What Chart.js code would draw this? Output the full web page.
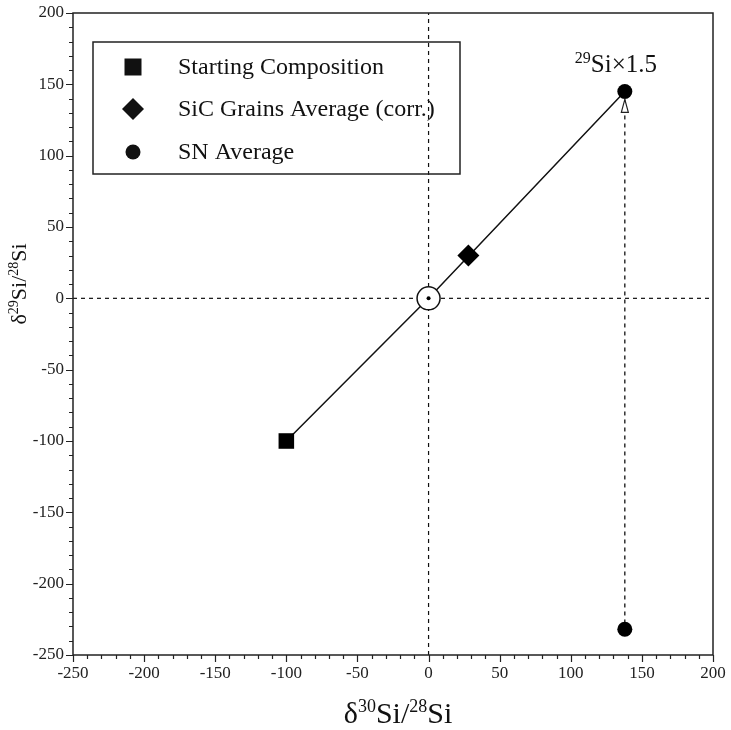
<!DOCTYPE html>
<html>
<head>
<meta charset="utf-8">
<script src="https://cdn.jsdelivr.net/npm/chart.js@4.4.0/dist/chart.umd.min.js"></script>
<style>
  html, body { margin: 0; padding: 0; background: #fff; }
</style>
</head>
<body>
<canvas id="myChart" width="731" height="730"></canvas>
<script>
// axis ranges
var xMin = -250, xMax = 200;
var yMin = -250, yMax = 200;

// measured compositions
var startX = [-100], startY = [-100];
var sicX = [28], sicY = [30];
var snX = [138, 138], snY = [145, -232];

// mixing line through the origin
var lineX = [-100, 0, 138], lineY = [-100, 0, 145];

var legendNames = ['Starting Composition', 'SiC Grains Average (corr.)', 'SN Average'];
var legendStyles = ['rect', 'rectRot', 'circle'];

var serif = "'Liberation Serif', 'Times New Roman', serif";

function pts(xs, ys) {
  var out = [];
  for (var i = 0; i < xs.length; i++) out.push({x: xs[i], y: ys[i]});
  return out;
}

// draws labels with raised isotope numbers: parts = [[text, isSup], ...]
function drawRich(ctx, parts, x, y, big, small, align) {
  var w = 0, i;
  for (i = 0; i < parts.length; i++) {
    ctx.font = (parts[i][1] ? small : big) + 'px ' + serif;
    w += ctx.measureText(parts[i][0]).width;
  }
  var cx = align === 'center' ? x - w / 2 : x;
  ctx.textAlign = 'left';
  ctx.textBaseline = 'alphabetic';
  for (i = 0; i < parts.length; i++) {
    var sup = parts[i][1];
    ctx.font = (sup ? small : big) + 'px ' + serif;
    ctx.fillText(parts[i][0], cx, sup ? y - big * 0.36 : y);
    cx += ctx.measureText(parts[i][0]).width;
  }
}

function marker(ctx, style, x, y) {
  ctx.beginPath();
  if (style === 'rect') {
    ctx.rect(x - 8.5, y - 8.5, 17, 17);
  } else if (style === 'rectRot') {
    ctx.moveTo(x, y - 11); ctx.lineTo(x + 11, y); ctx.lineTo(x, y + 11); ctx.lineTo(x - 11, y);
    ctx.closePath();
  } else {
    ctx.arc(x, y, 7.5, 0, Math.PI * 2);
  }
  ctx.fill();
}

var decorPlugin = {
  id: 'decor',
  afterDraw: function(chart) {
    var ctx = chart.ctx, a = chart.chartArea;
    var xs = chart.scales.x, ys = chart.scales.y;
    ctx.save();
    ctx.strokeStyle = '#222';
    ctx.fillStyle = '#111';

    // frame
    ctx.lineWidth = 1.5;
    ctx.strokeRect(a.left, a.top, a.right - a.left, a.bottom - a.top);

    // tick marks, long on the labelled values
    ctx.lineWidth = 1.2;
    ctx.beginPath();
    xs.ticks.forEach(function(t) {
      var px = Math.round(xs.getPixelForValue(t.value)) + 0.5;
      var len = t.value % 50 === 0 ? 7 : 4;
      ctx.moveTo(px, a.bottom); ctx.lineTo(px, a.bottom + len);
    });
    ys.ticks.forEach(function(t) {
      var py = Math.round(ys.getPixelForValue(t.value)) + 0.5;
      var len = t.value % 50 === 0 ? 7 : 4;
      ctx.moveTo(a.left, py); ctx.lineTo(a.left - len, py);
    });
    ctx.stroke();

    // legend box
    ctx.lineWidth = 1.5;
    ctx.strokeRect(93, 42, 367, 132);
    var rowY = [67, 109, 152];
    for (var i = 0; i < legendNames.length; i++) {
      marker(ctx, legendStyles[i], 133, rowY[i]);
      ctx.font = '24px ' + serif;
      ctx.textAlign = 'left';
      ctx.textBaseline = 'middle';
      ctx.fillText(legendNames[i], 178, rowY[i] + 1);
    }

    // open arrow head under the upper SN point
    var ax = xs.getPixelForValue(snX[0]);
    var ay = ys.getPixelForValue(snY[0]);
    ctx.fillStyle = '#fff';
    ctx.lineWidth = 1.2;
    ctx.beginPath();
    ctx.moveTo(ax, ay + 8);
    ctx.lineTo(ax + 3.5, ay + 21);
    ctx.lineTo(ax - 3.5, ay + 21);
    ctx.closePath();
    ctx.fill();
    ctx.stroke();

    ctx.fillStyle = '#111';
    drawRich(ctx, [['29', true], ['Si\u00d71.5', false]], ax - 50, ay - 19, 25, 16, 'left');

    // axis titles
    drawRich(ctx, [['\u03b4', false], ['30', true], ['Si/', false], ['28', true], ['Si', false]],
      398, 723, 30, 18, 'center');
    ctx.translate(26, 284);
    ctx.rotate(-Math.PI / 2);
    drawRich(ctx, [['\u03b4', false], ['29', true], ['Si/', false], ['28', true], ['Si', false]],
      0, 0, 22, 14, 'center');
    ctx.restore();
  }
};

var ctx = document.getElementById('myChart').getContext('2d');
var chart = new Chart(ctx, {
  type: 'scatter',
  data: {
    datasets: [
      {
        label: 'center dot',
        data: [{x: 0, y: 0}],
        pointStyle: 'circle',
        pointRadius: 2,
        backgroundColor: '#000',
        borderWidth: 0
      },
      {
        label: 'origin',
        data: [{x: 0, y: 0}],
        pointStyle: 'circle',
        pointRadius: 11.5,
        backgroundColor: '#fff',
        borderColor: '#111',
        borderWidth: 1.5
      },
      {
        label: legendNames[0],
        data: pts(startX, startY),
        pointStyle: 'rect',
        pointRadius: 11,
        backgroundColor: '#000',
        borderWidth: 0
      },
      {
        label: legendNames[1],
        data: pts(sicX, sicY),
        pointStyle: 'rectRot',
        pointRadius: 11,
        backgroundColor: '#000',
        borderWidth: 0
      },
      {
        label: legendNames[2],
        data: pts(snX, snY),
        pointStyle: 'circle',
        pointRadius: 7.5,
        backgroundColor: '#000',
        borderWidth: 0
      },
      {
        label: 'mixing line',
        data: pts(lineX, lineY),
        showLine: true,
        pointRadius: 0,
        borderColor: '#111',
        borderWidth: 1.5
      },
      {
        label: 'SN vertical',
        data: pts(snX, snY),
        showLine: true,
        pointRadius: 0,
        borderColor: '#111',
        borderWidth: 1.3,
        borderDash: [4, 4]
      },
      {
        label: 'x zero',
        data: [{x: 0, y: yMin}, {x: 0, y: yMax}],
        showLine: true,
        pointRadius: 0,
        borderColor: '#111',
        borderWidth: 1.2,
        borderDash: [4, 4]
      },
      {
        label: 'y zero',
        data: [{x: xMin, y: 0}, {x: xMax, y: 0}],
        showLine: true,
        pointRadius: 0,
        borderColor: '#111',
        borderWidth: 1.2,
        borderDash: [4, 4]
      }
    ]
  },
  options: {
    responsive: false,
    animation: false,
    devicePixelRatio: 1,
    layout: { padding: { top: 13, right: 18, left: 0, bottom: 0 } },
    plugins: {
      legend: { display: false },
      tooltip: { enabled: false }
    },
    scales: {
      x: {
        type: 'linear',
        min: xMin,
        max: xMax,
        afterFit: function(s) { s.height = 75; },
        border: { display: false },
        grid: { drawOnChartArea: false, color: 'rgba(0,0,0,0)', tickLength: 7 },
        ticks: {
          stepSize: 10,
          autoSkip: false,
          maxRotation: 0,
          padding: 1,
          color: '#222',
          font: { family: serif, size: 17 },
          callback: function(v) { return v % 50 === 0 ? String(v) : ''; }
        }
      },
      y: {
        type: 'linear',
        min: yMin,
        max: yMax,
        afterFit: function(s) { s.width = 73; },
        border: { display: false },
        grid: { drawOnChartArea: false, color: 'rgba(0,0,0,0)', tickLength: 7 },
        ticks: {
          stepSize: 10,
          autoSkip: false,
          padding: 2,
          color: '#222',
          font: { family: serif, size: 17 },
          callback: function(v) { return v % 50 === 0 ? String(v) : ''; }
        }
      }
    }
  },
  plugins: [decorPlugin]
});
</script>
</body>
</html>
